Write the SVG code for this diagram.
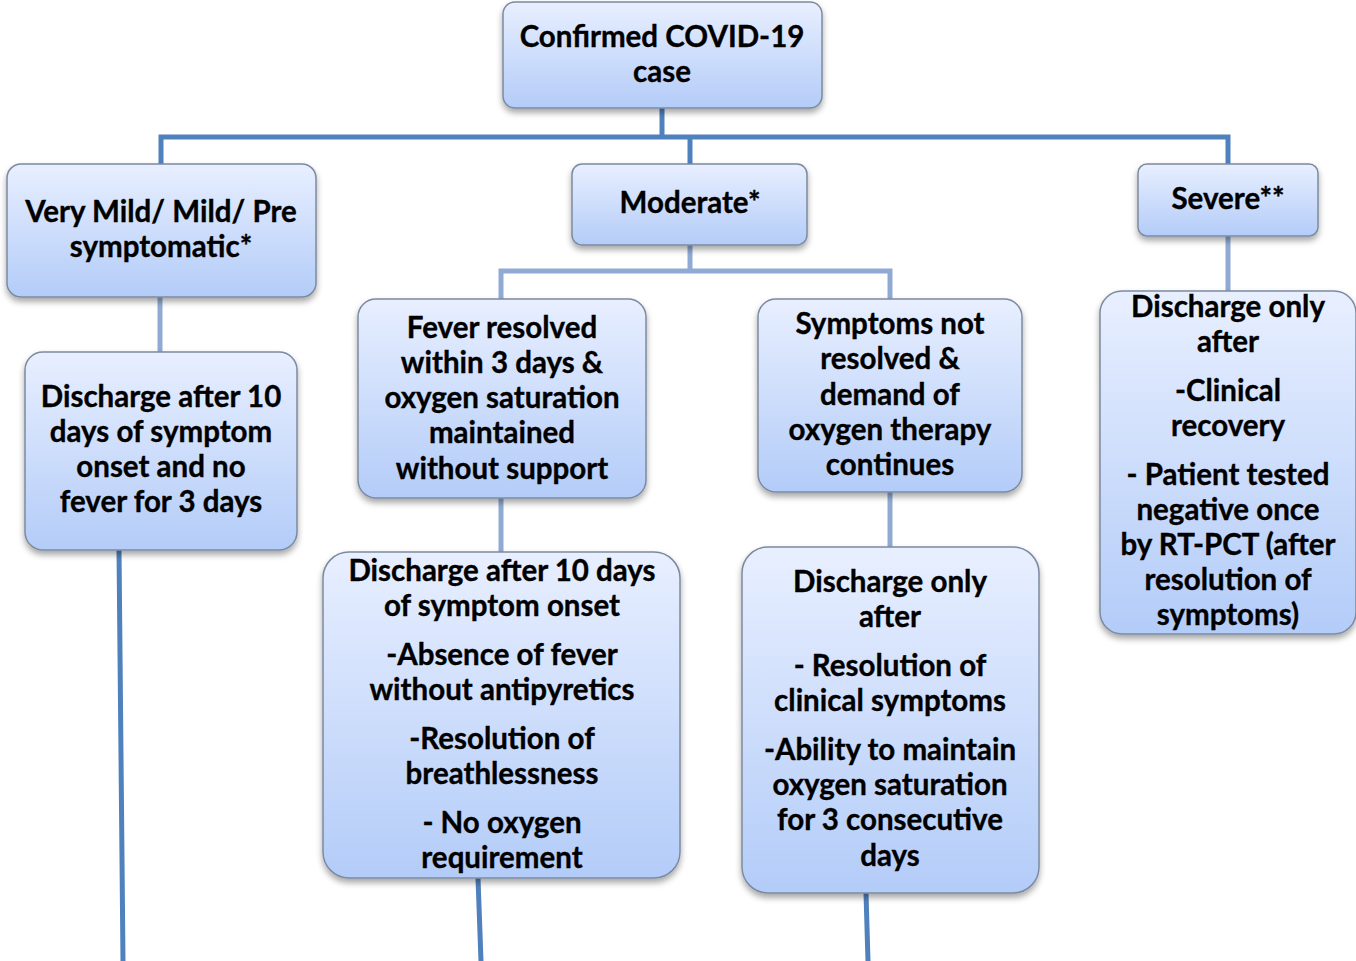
<svg xmlns="http://www.w3.org/2000/svg" width="1356" height="961" viewBox="0 0 1356 961">
<style>
.box{fill:url(#g);stroke:#7c8aa0;stroke-width:1.5;filter:url(#sh)}
.t{font-family:Lato,"Liberation Sans",sans-serif;font-weight:700;font-size:29.5px;fill:#000;stroke:#000;stroke-width:0.35;text-anchor:middle}
.c1{stroke:#4f81bd;stroke-width:5;fill:none}
.c2{stroke:#8faad3;stroke-width:5;fill:none}
</style>
<defs>
<linearGradient id="g" x1="0" y1="0" x2="0" y2="1">
<stop offset="0" stop-color="#e8efff"/>
<stop offset="1" stop-color="#b3ccf8"/>
</linearGradient>
<filter id="sh" x="-10%" y="-10%" width="120%" height="130%">
<feDropShadow dx="0" dy="4" stdDeviation="3" flood-color="#000" flood-opacity="0.35"/>
</filter>
</defs>
<rect width="1356" height="961" fill="#fff"/>
<g id="connectors">
<path class="c1" d="M662 108V137M161 164V137H1228V164M690 137V164"/>
<path class="c2" d="M690 245V271M501 299V271H890V299M160 297V352M1228 236V291M501 498V552M890 492V547"/>
<path class="c1" d="M119 550L123 961M478 878L481 961M866 893L868 961"/>
</g>
<g id="n-confirmed">
<rect class="box" x="503" y="2" width="319" height="106" rx="12"/>
<text class="t" x="662" y="47">Confirmed COVID-19</text>
<text class="t" x="662" y="82">case</text>
</g>
<g id="n-mild">
<rect class="box" x="7" y="164" width="309" height="133" rx="14"/>
<text class="t" x="161" y="222">Very Mild/ Mild/ Pre</text>
<text class="t" x="161" y="257">symptomatic*</text>
</g>
<g id="n-moderate">
<rect class="box" x="572" y="164" width="235" height="81" rx="10"/>
<text class="t" x="690" y="213">Moderate*</text>
</g>
<g id="n-severe">
<rect class="box" x="1138" y="164" width="180" height="72" rx="9"/>
<text class="t" x="1228" y="209">Severe**</text>
</g>
<g id="n-mild-discharge">
<rect class="box" x="25" y="352" width="272" height="198" rx="18"/>
<text class="t" x="161" y="407">Discharge after 10</text>
<text class="t" x="161" y="442">days of symptom</text>
<text class="t" x="161" y="477">onset and no</text>
<text class="t" x="161" y="512">fever for 3 days</text>
</g>
<g id="n-fever-resolved">
<rect class="box" x="358" y="299" width="288" height="199" rx="18"/>
<text class="t" x="502" y="338">Fever resolved</text>
<text class="t" x="502" y="373">within 3 days &amp;</text>
<text class="t" x="502" y="408">oxygen saturation</text>
<text class="t" x="502" y="443">maintained</text>
<text class="t" x="502" y="479">without support</text>
</g>
<g id="n-not-resolved">
<rect class="box" x="758" y="299" width="264" height="193" rx="18"/>
<text class="t" x="890" y="334">Symptoms not</text>
<text class="t" x="890" y="369">resolved &amp;</text>
<text class="t" x="890" y="405">demand of</text>
<text class="t" x="890" y="440">oxygen therapy</text>
<text class="t" x="890" y="475">continues</text>
</g>
<g id="n-severe-discharge">
<rect class="box" x="1100" y="291" width="256" height="343" rx="22"/>
<text class="t" x="1228" y="317">Discharge only</text>
<text class="t" x="1228" y="352">after</text>
<text class="t" x="1228" y="401">-Clinical</text>
<text class="t" x="1228" y="436">recovery</text>
<text class="t" x="1228" y="485">- Patient tested</text>
<text class="t" x="1228" y="520">negative once</text>
<text class="t" x="1228" y="555">by RT-PCT (after</text>
<text class="t" x="1228" y="590">resolution of</text>
<text class="t" x="1228" y="625">symptoms)</text>
</g>
<g id="n-moderate-discharge-a">
<rect class="box" x="323" y="552" width="357" height="326" rx="26"/>
<text class="t" x="502" y="581">Discharge after 10 days</text>
<text class="t" x="502" y="616">of symptom onset</text>
<text class="t" x="502" y="665">-Absence of fever</text>
<text class="t" x="502" y="700">without antipyretics</text>
<text class="t" x="502" y="749">-Resolution of</text>
<text class="t" x="502" y="784">breathlessness</text>
<text class="t" x="502" y="833">- No oxygen</text>
<text class="t" x="502" y="868">requirement</text>
</g>
<g id="n-moderate-discharge-b">
<rect class="box" x="742" y="547" width="297" height="346" rx="26"/>
<text class="t" x="890" y="592">Discharge only</text>
<text class="t" x="890" y="627">after</text>
<text class="t" x="890" y="676">- Resolution of</text>
<text class="t" x="890" y="711">clinical symptoms</text>
<text class="t" x="890" y="760">-Ability to maintain</text>
<text class="t" x="890" y="795">oxygen saturation</text>
<text class="t" x="890" y="830">for 3 consecutive</text>
<text class="t" x="890" y="866">days</text>
</g>
</svg>
